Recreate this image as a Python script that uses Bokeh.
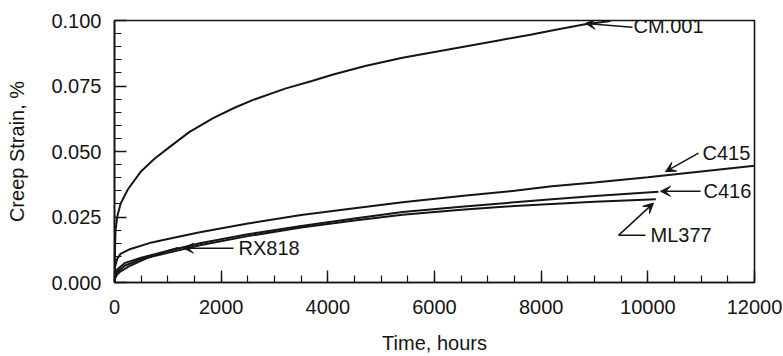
from bokeh.plotting import figure
from bokeh.models import Range1d, Arrow, VeeHead, Label, SingleIntervalTicker, NumeralTickFormatter
from bokeh.embed import file_html
from bokeh.resources import INLINE

# ---- data (hours, creep strain %) ----
cm001_t = [0, 8, 20, 50, 112, 250, 500, 750, 1000, 1400, 1850, 2250, 2600, 3200, 3700, 4100, 4700, 5400, 6000, 6600, 7200, 7800, 8200, 8800, 9300]
cm001_s = [0, 0.012, 0.020, 0.025, 0.030, 0.0355, 0.0425, 0.0472, 0.0512, 0.0574, 0.0627, 0.0667, 0.0697, 0.0740, 0.0769, 0.0794, 0.0826, 0.0858, 0.0880, 0.0902, 0.0924, 0.0946, 0.0962, 0.0985, 0.0998]

c415_t = [0, 10, 50, 112, 300, 700, 1000, 1600, 2500, 3500, 4500, 5400, 6500, 7500, 8200, 9000, 10000, 11000, 12000]
c415_s = [0, 0.006, 0.009, 0.0109, 0.0128, 0.0153, 0.0166, 0.0192, 0.0225, 0.0258, 0.0283, 0.0306, 0.0330, 0.0350, 0.0367, 0.0382, 0.0402, 0.0424, 0.0446]

c416_t = [0, 10, 50, 200, 500, 700, 1000, 1600, 2500, 3500, 4500, 5400, 6500, 7500, 8200, 9000, 10200]
c416_s = [0, 0.003, 0.005, 0.0075, 0.0095, 0.0105, 0.0120, 0.0150, 0.0184, 0.0216, 0.0244, 0.0269, 0.0289, 0.0306, 0.0318, 0.0330, 0.0346]

ml377_t = [0, 10, 50, 200, 500, 1000, 1600, 2500, 3500, 4500, 5400, 6500, 7500, 8200, 9000, 10150]
ml377_s = [0, 0.002, 0.004, 0.0065, 0.0090, 0.0113, 0.0142, 0.0177, 0.0210, 0.0237, 0.0259, 0.0278, 0.0292, 0.0300, 0.0308, 0.0318]

rx818_t = [0, 10, 50, 100, 300, 600, 900, 1200]
rx818_s = [0, 0.0015, 0.003, 0.004, 0.0065, 0.0092, 0.0115, 0.0133]

x_ticks_interval = 2000
y_ticks_interval = 0.025

# annotation anchors
labels = ["CM.001", "C415", "C416", "RX818"]
label_x = [9731, 11025, 11044, 2325]
label_y = [0.0978, 0.0494, 0.0348, 0.0131]
tail_x = [9713, 10950, 10988, 2231]
tail_y = [0.0974, 0.0494, 0.0348, 0.0131]
tip_x = [8831, 10331, 10238, 1294]
tip_y = [0.0989, 0.0423, 0.0348, 0.0131]

ml_label = "ML377"
ml_text = (10050, 0.018)
ml_corner = (9450, 0.018)
ml_bar_end = (9956, 0.018)
ml_tip = (10106, 0.0303)

FONT = "Liberation Sans"
FS = "20px"
INK = "#151515"

p = figure(width=783, height=356, x_range=Range1d(0, 12000), y_range=Range1d(0, 0.1),
           output_backend="svg", toolbar_location=None,
           min_border_left=114, min_border_right=29, min_border_top=20, min_border_bottom=69)
p.grid.visible = False
p.background_fill_color = "white"
p.border_fill_color = "white"
p.outline_line_color = INK
p.outline_line_width = 1.6
p.outline_line_alpha = 1.0

p.xaxis.ticker = SingleIntervalTicker(interval=x_ticks_interval, num_minor_ticks=4)
p.yaxis.ticker = SingleIntervalTicker(interval=y_ticks_interval, num_minor_ticks=5)
p.xaxis.formatter = NumeralTickFormatter(format="0")
p.yaxis.formatter = NumeralTickFormatter(format="0.000")
p.xaxis.axis_label = "Time, hours"
p.yaxis.axis_label = "Creep Strain, %"
for ax in (p.xaxis, p.yaxis):
    ax.axis_line_color = INK
    ax.axis_line_width = 1.6
    ax.major_tick_line_color = INK
    ax.minor_tick_line_color = INK
    ax.major_tick_line_width = 1.4
    ax.minor_tick_line_width = 1.2
    ax.major_tick_in = 12
    ax.major_tick_out = 0
    ax.minor_tick_in = 7
    ax.minor_tick_out = 0
    ax.major_label_text_font = FONT
    ax.major_label_text_font_size = FS
    ax.major_label_text_color = INK
    ax.axis_label_text_font = FONT
    ax.axis_label_text_font_size = FS
    ax.axis_label_text_font_style = "normal"
    ax.axis_label_text_color = INK
p.yaxis.major_label_standoff = 13
p.xaxis.major_label_standoff = 17
p.yaxis.axis_label_standoff = 20
p.xaxis.axis_label_standoff = 15

for t, s in [(cm001_t, cm001_s), (c415_t, c415_s), (c416_t, c416_s), (ml377_t, ml377_s), (rx818_t, rx818_s)]:
    p.line(t, s, line_color=INK, line_width=2)

for i, lab in enumerate(labels):
    p.add_layout(Arrow(end=VeeHead(size=10, fill_color=INK, line_color=INK, line_width=1),
                       x_start=tail_x[i], y_start=tail_y[i], x_end=tip_x[i], y_end=tip_y[i],
                       line_color=INK, line_width=1.5))
    p.add_layout(Label(x=label_x[i], y=label_y[i], text=lab, text_font=FONT, text_font_size=FS,
                       text_color=INK, text_baseline="middle", text_align="left"))

p.line([ml_corner[0], ml_bar_end[0]], [ml_corner[1], ml_bar_end[1]], line_color=INK, line_width=1.5)
p.add_layout(Arrow(end=VeeHead(size=10, fill_color=INK, line_color=INK, line_width=1),
                   x_start=ml_corner[0], y_start=ml_corner[1], x_end=ml_tip[0], y_end=ml_tip[1],
                   line_color=INK, line_width=1.5))
p.add_layout(Label(x=ml_text[0], y=ml_text[1], text=ml_label, text_font=FONT, text_font_size=FS,
                   text_color=INK, text_baseline="middle", text_align="left"))

open("out.html", "w").write(file_html(p, INLINE))
